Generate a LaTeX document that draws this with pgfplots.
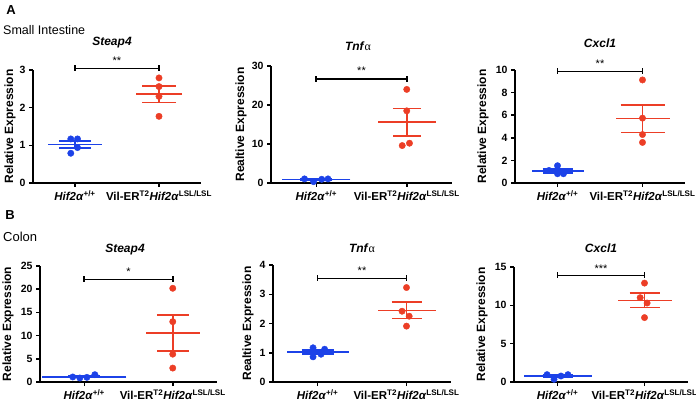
\documentclass[border=0pt]{standalone}
\usepackage{fontspec}
\setmainfont{Liberation Sans}
\newfontfamily\serifgreek{Liberation Serif}
\usepackage{pgfplots}
\pgfplotsset{compat=1.18}

\definecolor{wtblue}{RGB}{28,66,232}
\definecolor{mutred}{RGB}{236,62,38}

\newcommand{\wt}{\textbf{\textit{Hif2α}}\textsuperscript{\textbf{+/+}}}
\newcommand{\mut}{\textbf{Vil-ER\textsuperscript{T2}\textit{Hif2α}\textsuperscript{LSL/LSL}}}
\newcommand{\tnf}{\textbf{\textit{Tnf}}{\serifgreek α}}

\pgfplotsset{
  gp/.style={
    scale only axis,
    anchor=south west,
    axis lines=left,
    axis line style={-, line width=1.5pt},
    xmin=0.5, xmax=2.5, ymin=0,
    xtick={1,2},
    xticklabels={\wt, \mut},
    tick align=outside,
    major tick length=4pt,
    tick style={line width=1.5pt, black},
    yticklabel style={font=\bfseries\fontsize{10.5}{12}\selectfont},
    xticklabel style={font=\bfseries\fontsize{11.5}{13}\selectfont},
    /pgf/number format/assume math mode=true,
    clip=false,
    ylabel style={font=\bfseries\fontsize{12}{14}\selectfont, anchor=center},
  },
  dots/.style={only marks, mark=*, mark size=3.2pt, color=#1},
  meanbar/.style n args={3}{only marks, mark=-, mark size=#2, color=#1,
    mark options={line width=1.5pt},
    error bars/.cd, y dir=both, y explicit, error mark=|,
    error bar style={line width=1.5pt, color=#1},
    error mark options={mark size=#3, line width=1.5pt, color=#1}},
  bracket/.style={black, line width=1.6pt, mark=|, mark size=3pt, mark options={solid, line width=1.6pt}},
}

\begin{document}
\begin{tikzpicture}
\useasboundingbox (0,0) rectangle (696pt,-403pt);

% ---- A: small intestine ----
\begin{axis}[gp, at={(33pt,-183pt)}, width=168pt, height=113pt,
  ymax=3, ytick={0,1,2,3}, ylabel={Relative Expression},
  ylabel style={at={([xshift=-23pt]axis description cs:0,0.5)}}]
  \addplot[dots=wtblue] coordinates {(0.95,1.17) (1.03,1.17) (1.03,0.94) (0.95,0.79)};
  \addplot[meanbar={wtblue}{27pt}{16pt}] coordinates {(1,1.02) +- (0,0.09)};
  \addplot[dots=mutred] coordinates {(2,2.79) (2,2.56) (2,2.30) (2,1.77)};
  \addplot[meanbar={mutred}{23pt}{17pt}] coordinates {(2,2.36) +- (0,0.22)};
  \addplot[bracket] coordinates {(1,3.04) (2,3.04)};
  \node[anchor=base, yshift=3.5pt, font=\fontsize{11}{12}\selectfont] at (axis cs:1.5,3.04) {**};
\end{axis}

\begin{axis}[gp, at={(271pt,-183pt)}, width=181pt, height=117pt,
  ymax=30, ytick={0,10,20,30}, ylabel={Realtive Expression},
  ylabel style={at={([xshift=-30pt]axis description cs:0,0.5)}}]
  \addplot[dots=wtblue] coordinates {(0.87,1.05) (0.97,0.35) (1.06,0.95) (1.13,1.05)};
  \addplot[meanbar={wtblue}{34pt}{16pt}] coordinates {(1,0.85) +- (0,0.17)};
  \addplot[dots=mutred] coordinates {(2,24.0) (2,18.5) (2.03,10.2) (1.95,9.6)};
  \addplot[meanbar={mutred}{29pt}{14pt}] coordinates {(2,15.6) +- (0,3.5)};
  \addplot[bracket] coordinates {(1,26.6) (2,26.6)};
  \node[anchor=base, yshift=5pt, font=\fontsize{11}{12}\selectfont] at (axis cs:1.5,26.6) {**};
\end{axis}

\begin{axis}[gp, at={(515pt,-183pt)}, width=170pt, height=113pt,
  ymax=10, ytick={0,2,4,6,8,10}, ylabel={Relative Expression},
  ylabel style={at={([xshift=-32pt]axis description cs:0,0.5)}}]
  \addplot[dots=wtblue] coordinates {(0.9,1.11) (1.0,1.53) (1.0,0.82) (1.07,0.82)};
  \addplot[meanbar={wtblue}{26pt}{15pt}] coordinates {(1,1.07) +- (0,0.17)};
  \addplot[dots=mutred] coordinates {(2,9.12) (2,5.74) (2,4.29) (2,3.59)};
  \addplot[meanbar={mutred}{27pt}{22pt}] coordinates {(2,5.69) +- (0,1.21)};
  \addplot[bracket] coordinates {(1,9.88) (2,9.88)};
  \node[anchor=base, yshift=3.5pt, font=\fontsize{11}{12}\selectfont] at (axis cs:1.5,9.88) {**};
\end{axis}

% ---- B: colon ----
\begin{axis}[gp, at={(40pt,-382pt)}, width=177pt, height=116pt,
  ymax=25, ytick={0,5,10,15,20,25}, ylabel={Relative Expression},
  ylabel style={at={([xshift=-32pt]axis description cs:0,0.5)}}]
  \addplot[dots=wtblue] coordinates {(0.87,1.08) (0.95,0.86) (1.03,1.0) (1.12,1.58)};
  \addplot[meanbar={wtblue}{42pt}{16pt}] coordinates {(1,1.13) +- (0,0.16)};
  \addplot[dots=mutred] coordinates {(2,20.2) (2,13.0) (2,6.0) (2,3.0)};
  \addplot[meanbar={mutred}{27pt}{16pt}] coordinates {(2,10.55) +- (0,3.85)};
  \addplot[bracket] coordinates {(1,22.1) (2,22.1)};
  \node[anchor=base, yshift=3.5pt, font=\fontsize{11}{12}\selectfont] at (axis cs:1.5,22.1) {*};
\end{axis}

\begin{axis}[gp, at={(273pt,-382pt)}, width=178pt, height=117pt,
  ymax=4, ytick={0,1,2,3,4}, ylabel={Realtive Expression},
  ylabel style={at={([xshift=-25pt]axis description cs:0,0.5)}}]
  \addplot[dots=wtblue] coordinates {(0.95,1.17) (1.08,1.12) (1.04,0.95) (0.95,0.86)};
  \addplot[meanbar={wtblue}{31pt}{16pt}] coordinates {(1,1.02) +- (0,0.07)};
  \addplot[dots=mutred] coordinates {(2,3.23) (1.95,2.42) (2.03,2.25) (2,1.91)};
  \addplot[meanbar={mutred}{29pt}{15pt}] coordinates {(2,2.45) +- (0,0.28)};
  \addplot[bracket] coordinates {(1,3.54) (2,3.54)};
  \node[anchor=base, yshift=3.5pt, font=\fontsize{11}{12}\selectfont] at (axis cs:1.5,3.54) {**};
\end{axis}

\begin{axis}[gp, at={(514pt,-382pt)}, width=174pt, height=115pt,
  ymax=15, ytick={0,5,10,15}, ylabel={Relative Expression},
  ylabel style={at={([xshift=-32pt]axis description cs:0,0.5)}}]
  \addplot[dots=wtblue] coordinates {(0.88,0.96) (1.04,0.78) (1.12,0.96) (0.96,0.35)};
  \addplot[meanbar={wtblue}{34pt}{15pt}] coordinates {(1,0.76) +- (0,0.14)};
  \addplot[dots=mutred] coordinates {(2,12.9) (1.95,11.0) (2.03,10.3) (2,8.4)};
  \addplot[meanbar={mutred}{27pt}{15pt}] coordinates {(2,10.65) +- (0,0.93)};
  \addplot[bracket] coordinates {(1,13.9) (2,13.9)};
  \node[anchor=base, yshift=3pt, font=\fontsize{11}{12}\selectfont] at (axis cs:1.5,13.9) {***};
\end{axis}

% ---- panel letters, section names, titles ----
\node[inner sep=0, font=\bfseries\fontsize{13}{15}\selectfont] at (11pt,-10.5pt) {A};
\node[inner sep=0, anchor=west, font=\fontsize{12.5}{15}\selectfont] at (3pt,-30pt) {Small Intestine};
\node[inner sep=0, font=\bfseries\fontsize{13}{15}\selectfont] at (10pt,-215pt) {B};
\node[inner sep=0, anchor=west, font=\fontsize{13}{15}\selectfont] at (3pt,-237pt) {Colon};

\node[inner sep=0, font=\bfseries\itshape\fontsize{12}{14}\selectfont] at (112pt,-43pt) {Steap4};
\node[inner sep=0, font=\fontsize{12}{14}\selectfont] at (358pt,-46pt) {\tnf};
\node[inner sep=0, font=\bfseries\itshape\fontsize{12}{14}\selectfont] at (600pt,-43pt) {Cxcl1};
\node[inner sep=0, font=\bfseries\itshape\fontsize{12}{14}\selectfont] at (125pt,-250pt) {Steap4};
\node[inner sep=0, font=\fontsize{12}{14}\selectfont] at (362pt,-248pt) {\tnf};
\node[inner sep=0, font=\bfseries\itshape\fontsize{12}{14}\selectfont] at (601pt,-248pt) {Cxcl1};
\end{tikzpicture}
\end{document}
